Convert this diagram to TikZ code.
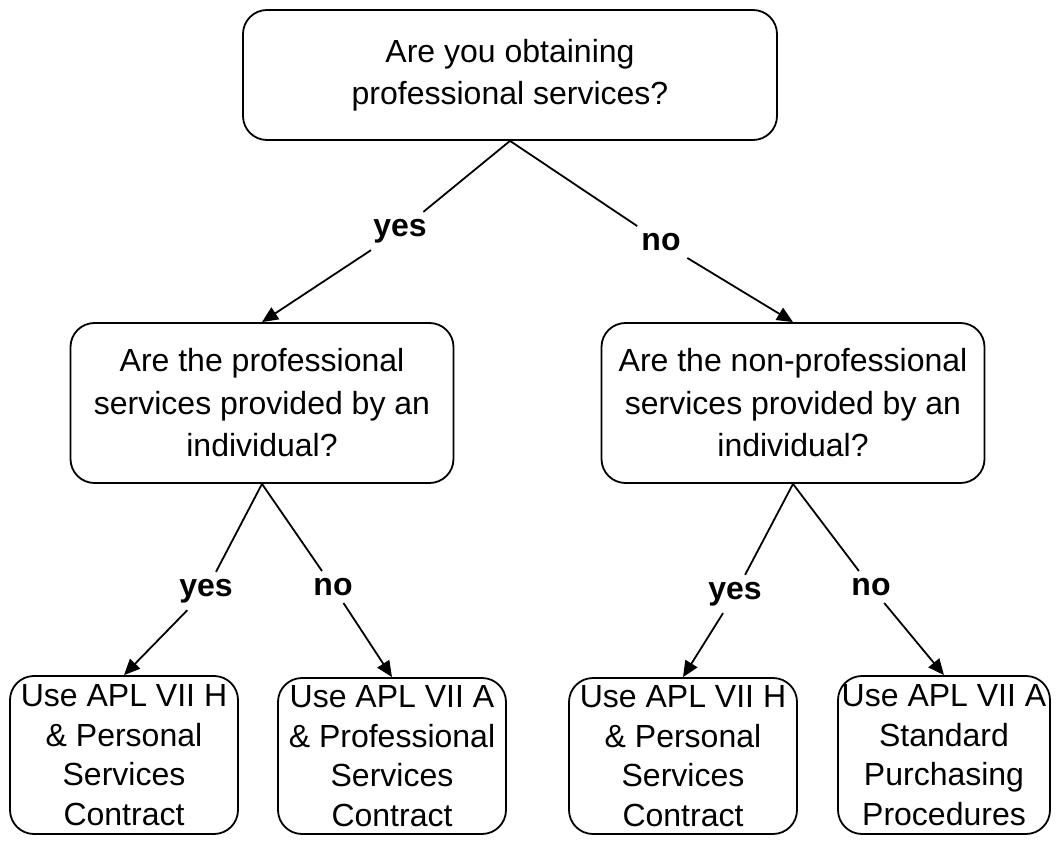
\documentclass[tikz,border=0pt]{standalone}
\usepackage{fontspec}
\setmainfont{Liberation Sans}
\usetikzlibrary{arrows.meta}
\begin{document}
\begin{tikzpicture}[x=1pt,y=-1pt,
  box/.style={draw, line width=1.8pt, rounded corners=24pt, align=center,
    font=\fontsize{32}{42.5}\selectfont, inner sep=0pt},
  leaf/.style={box, font=\fontsize{32}{39.5}\selectfont},
  lbl/.style={font=\fontsize{32}{38}\selectfont\bfseries, inner sep=7pt},
  conn/.style={line width=1.8pt, -{Triangle[length=16pt,width=14pt]}}]
\useasboundingbox (0,0) rectangle (1058,842);

\node[box, minimum width=534pt, minimum height=130pt] (top) at (510,75)
  {Are you obtaining\\professional services?};
\node[box, minimum width=383pt, minimum height=160pt] (midL) at (262,403)
  {Are the professional\\services provided by an\\individual?};
\node[box, minimum width=383pt, minimum height=160pt] (midR) at (793,403)
  {Are the non-professional\\services provided by an\\individual?};
\node[leaf, minimum width=228pt, minimum height=158pt] (b1) at (124,755)
  {Use APL VII H\\\& Personal\\Services\\Contract};
\node[leaf, minimum width=228pt, minimum height=156pt] (b2) at (392,756)
  {Use APL VII A\\\& Professional\\Services\\Contract};
\node[leaf, minimum width=228pt, minimum height=156pt] (b3) at (683,756)
  {Use APL VII H\\\& Personal\\Services\\Contract};
\node[leaf, minimum width=212pt, minimum height=158pt] (b4) at (944,755)
  {Use APL VII A\\Standard\\Purchasing\\Procedures};

\node[lbl] (y1) at (400,231) {yes};
\node[lbl] (n1) at (661,242) {no};
\node[lbl] (y2) at (206,591) {yes};
\node[lbl] (n2) at (333,587) {no};
\node[lbl] (y3) at (735,594) {yes};
\node[lbl] (n3) at (871,587) {no};

\draw[conn] (top.south) -- (y1) -- (midL.north);
\draw[conn] (top.south) -- (n1) -- (midR.north);
\draw[conn] (midL.south) -- (y2) -- (b1.north);
\draw[conn] (midL.south) -- (n2) -- (b2.north);
\draw[conn] (midR.south) -- (y3) -- (b3.north);
\draw[conn] (midR.south) -- (n3) -- (b4.north);
\end{tikzpicture}
\end{document}
